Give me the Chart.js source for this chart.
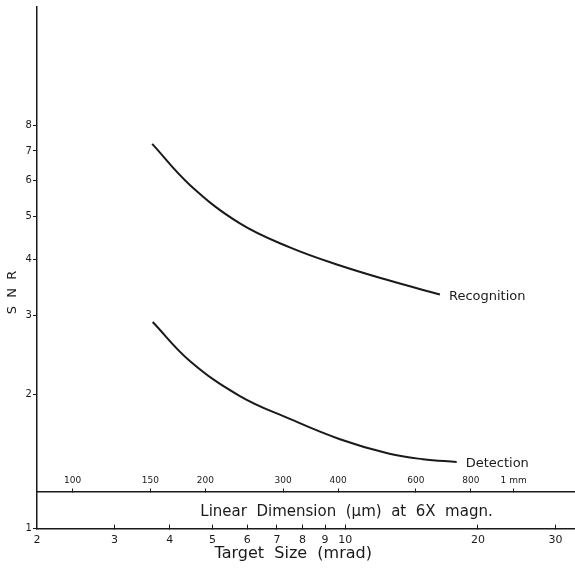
<!DOCTYPE html>
<html>
<head>
<meta charset="utf-8">
<script src="https://cdn.jsdelivr.net/npm/chart.js@4.4.1/dist/chart.umd.min.js"></script>
<style>
  html, body { margin: 0; padding: 0; background: #fff; }
  #wrap { width: 575px; height: 568px; }
</style>
</head>
<body>
<div id="wrap"><canvas id="snrChart"></canvas></div>
<script>
// values: target size (mrad) vs SNR
const recognitionSize = [3.65, 4.45, 5.77, 7.49, 9.73, 12.6, 16.4];
const recognitionSnr  = [7.26, 5.87, 4.82, 4.26, 3.88, 3.59, 3.34];
const detectionSize   = [3.66, 4.45, 5.77, 7.49, 9.73, 12.6, 15.0, 17.9];
const detectionSnr    = [2.90, 2.37, 1.98, 1.76, 1.585, 1.47, 1.43, 1.41];

const snrTicks    = [1, 2, 3, 4, 5, 6, 7, 8];
const mradTicks   = [2, 3, 4, 5, 6, 7, 8, 9, 10, 20, 30];
const micronTicks = [100, 150, 200, 300, 400, 600, 800, 1000];
const micronLabels = ['100', '150', '200', '300', '400', '600', '800', '1 mm'];

const mradRange = [2, 33.2];
const snrRange = [1, 14.7];
const micronPerMrad = 41.5;   // linear dimension at 6X magn.
const micronAxisAt = 1.21;    // SNR level where the second scale is drawn

const ink = '#1a1a1a';
const font = 'DejaVu Sans';

function pts(xs, ys) {
  return xs.map((x, i) => ({ x: x, y: ys[i] }));
}

function fixTicks(list) {
  return function (scale) {
    scale.ticks = list.map(v => ({ value: v }));
  };
}

// writes the curve name just past the end of each curve
const curveNames = {
  id: 'curveNames',
  afterDatasetsDraw(chart) {
    const ctx = chart.ctx;
    ctx.save();
    ctx.fillStyle = ink;
    ctx.font = '13px "' + font + '"';
    ctx.textAlign = 'left';
    ctx.textBaseline = 'middle';
    chart.data.datasets.forEach((ds, i) => {
      const pts = chart.getDatasetMeta(i).data;
      const last = pts[pts.length - 1];
      ctx.fillText(ds.label, last.x + 9, last.y + 2);
    });
    ctx.restore();
  }
};

new Chart(document.getElementById('snrChart'), {
  type: 'line',
  data: {
    datasets: [
      {
        label: 'Recognition',
        data: pts(recognitionSize, recognitionSnr),
        borderColor: ink,
        borderWidth: 2,
        pointRadius: 0,
        tension: 0.4
      },
      {
        label: 'Detection',
        data: pts(detectionSize, detectionSnr),
        borderColor: ink,
        borderWidth: 2,
        pointRadius: 0,
        tension: 0.4
      }
    ]
  },
  options: {
    responsive: true,
    maintainAspectRatio: false,
    animation: false,
    layout: { padding: { left: 0, right: 0, top: 0, bottom: 7 } },
    plugins: {
      legend: { display: false },
      tooltip: { enabled: false }
    },
    scales: {
      x: {
        type: 'logarithmic',
        position: 'bottom',
        min: mradRange[0],
        max: mradRange[1],
        afterBuildTicks: fixTicks(mradTicks),
        border: { display: true, color: ink, width: 1.5 },
        grid: { drawOnChartArea: false, tickLength: -4, color: ink },
        ticks: {
          color: ink,
          font: { family: font, size: 11 },
          padding: 9,
          autoSkip: false,
          maxRotation: 0,
          callback: v => String(v)
        },
        title: {
          display: true,
          text: 'Target  Size  (mrad)     ',
          color: ink,
          font: { family: font, size: 16 },
          padding: { top: -12, bottom: -2 }
        }
      },
      x2: {
        type: 'logarithmic',
        position: { y: micronAxisAt },
        min: mradRange[0] * micronPerMrad,
        max: mradRange[1] * micronPerMrad,
        afterBuildTicks: fixTicks(micronTicks),
        border: { display: true, color: ink, width: 1.5 },
        grid: { drawOnChartArea: false, tickLength: -4, color: ink },
        ticks: {
          color: ink,
          font: { family: font, size: 9 },
          padding: -12,
          autoSkip: false,
          maxRotation: 0,
          callback: (v, i) => micronLabels[i]
        },
        title: {
          display: true,
          text: '                 Linear  Dimension  (\u00b5m)  at  6X  magn.',
          color: ink,
          font: { family: font, size: 15 },
          padding: { top: 29, bottom: -28 }
        }
      },
      y: {
        type: 'logarithmic',
        min: snrRange[0],
        max: snrRange[1],
        afterBuildTicks: fixTicks(snrTicks),
        border: { display: true, color: ink, width: 1.5 },
        grid: { drawOnChartArea: false, tickLength: 4, color: ink },
        ticks: {
          color: ink,
          font: { family: font, size: 10 },
          padding: 1,
          callback: v => String(v)
        },
        title: {
          display: true,
          text: 'S  N  R            ',
          color: ink,
          font: { family: font, size: 13 },
          padding: { top: 5, bottom: 4 }
        }
      }
    }
  },
  plugins: [curveNames]
});
</script>
</body>
</html>
